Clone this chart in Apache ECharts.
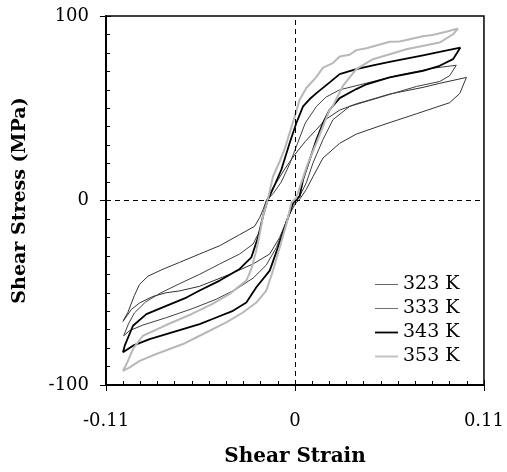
<!DOCTYPE html>
<html>
<head>
<meta charset="utf-8">
<script src="https://cdn.jsdelivr.net/npm/echarts@6/dist/echarts.min.js"></script>
<style>
html,body{margin:0;padding:0;background:#fff;}
#chart{width:507px;height:472px;}
</style>
</head>
<body>
<div id="chart"></div>
<script>
// ---- data (shear strain, shear stress MPa) ----
const seriesNames = ['323 K', '333 K', '343 K', '353 K'];
const xTicks = [-0.11, 0, 0.11];
const yTicks = [-100, 0, 100];

// 323 K
const t323Upper = [[0.0998,66.7],[0.0842,63.5],[0.0745,61.3],[0.0648,59.5],[0.0551,57.7],[0.0454,55],[0.0360,52.5],[0.026,49],[0.018,44],[0.012,38],[0.006,32],[0.0,25],[-0.006,17],[-0.012,8],[-0.0167,0],[-0.0186,-5],[-0.0205,-9.2],[-0.0235,-14],[-0.0322,-18.5],[-0.0438,-24.5],[-0.0555,-29],[-0.0671,-33.5],[-0.0775,-37.5],[-0.0855,-41],[-0.0905,-45.5],[-0.0935,-51.5],[-0.0972,-60.5],[-0.1001,-65.5]];
const t323Lower = [[-0.1001,-65.5],[-0.0952,-59],[-0.0904,-55.5],[-0.0827,-52],[-0.075,-50],[-0.0671,-49],[-0.0555,-46.5],[-0.038,-40],[-0.0244,-34.4],[-0.0147,-29],[-0.0089,-20],[-0.004,-9],[0.0,-2],[0.003,1],[0.0066,6],[0.0105,13],[0.0163,23],[0.026,31],[0.0357,36],[0.0512,41],[0.0707,47],[0.09,53],[0.0959,58],[0.0998,66.7]];

// 333 K
const t333Upper = [[0.0939,73.3],[0.0803,71.7],[0.0609,68.1],[0.0416,63.6],[0.026,60],[0.018,56],[0.0125,51],[0.006,42],[0.0015,31],[-0.003,20],[-0.008,10],[-0.0125,4],[-0.0165,0],[-0.0205,-16.4],[-0.0244,-23.6],[-0.0322,-29],[-0.0438,-34.4],[-0.0555,-40],[-0.067,-45],[-0.078,-50],[-0.087,-55],[-0.0935,-61],[-0.097,-67],[-0.0997,-73.3]];
const t333Lower = [[-0.0997,-73.3],[-0.0962,-70.5],[-0.0885,-67.5],[-0.0749,-63.5],[-0.0594,-58.5],[-0.0458,-53.5],[-0.0341,-48],[-0.0243,-42],[-0.0167,-35],[-0.0108,-25.4],[-0.006,-14],[-0.002,-3],[0.002,1],[0.0066,9.6],[0.0105,20.4],[0.0163,33],[0.0221,43.8],[0.0318,51],[0.0512,56.4],[0.0707,61.8],[0.0842,64.5],[0.09,67.6],[0.0939,73.3]];

// 343 K
const t343Upper = [[0.0963,82.9],[0.0842,80.5],[0.0745,78.7],[0.0648,76.9],[0.0551,75.1],[0.0454,73.3],[0.0357,71.2],[0.026,68.5],[0.0202,64],[0.0125,58.2],[0.0086,55],[0.0047,51],[0.0008,42],[-0.0031,31.2],[-0.0079,16.8],[-0.012,8],[-0.016,0],[-0.0185,-8],[-0.0215,-20],[-0.0254,-30.8],[-0.0322,-37.1],[-0.0438,-43.4],[-0.0555,-48.8],[-0.0632,-52.6],[-0.0749,-57.1],[-0.0865,-61.6],[-0.0943,-67.9],[-0.0991,-78.7],[-0.1001,-82.3]];
const t343Lower = [[-0.1001,-82.3],[-0.0943,-78.7],[-0.0846,-75.1],[-0.0749,-72.4],[-0.0652,-69.7],[-0.0555,-67],[-0.0458,-63.4],[-0.0361,-59.8],[-0.0283,-55.3],[-0.0225,-47],[-0.0147,-38],[-0.0099,-25.4],[-0.005,-12],[-0.001,-1],[0.0027,2.3],[0.0047,11.4],[0.0086,22.2],[0.0125,33],[0.0163,42],[0.0202,49.2],[0.026,55.5],[0.0357,60.4],[0.0416,63],[0.0551,66.7],[0.0648,68.5],[0.0745,70.3],[0.0842,73],[0.092,76.6],[0.0963,82.9]];

// 353 K
const t353Upper = [[0.0949,93.2],[0.088,91.5],[0.080,89.7],[0.0745,89],[0.0609,86.2],[0.0551,86],[0.0416,82.5],[0.0357,81.5],[0.0318,79],[0.026,78],[0.0221,74.5],[0.0163,72],[0.0125,67],[0.0066,61],[0.0027,54.6],[0.0,46],[-0.003,37],[-0.006,28],[-0.009,21],[-0.0128,13],[-0.0157,1],[-0.0186,-8.5],[-0.0205,-18],[-0.0225,-27],[-0.0254,-37],[-0.0283,-43.4],[-0.038,-50.6],[-0.048,-56],[-0.06,-61.5],[-0.075,-67.5],[-0.0885,-73.3],[-0.094,-80],[-0.098,-88.5],[-0.1001,-92.3]];
const t353Lower = [[-0.1001,-92.3],[-0.0962,-90.4],[-0.0904,-86.9],[-0.0807,-83.2],[-0.0652,-77.8],[-0.0555,-73.3],[-0.04,-66.1],[-0.0303,-60.7],[-0.0225,-55.3],[-0.0167,-48.8],[-0.0128,-38],[-0.0089,-25.4],[-0.005,-12.8],[-0.002,-1.1],[0.0008,1.5],[0.0037,9.6],[0.0076,20.4],[0.0125,31.2],[0.0163,40.2],[0.0202,49.2],[0.0221,51.4],[0.028,62.2],[0.0357,71.2],[0.0454,76.6],[0.0648,82],[0.0842,85.6],[0.092,90.1],[0.0949,93.2]];

const loops = [t323Upper.concat(t323Lower), t333Upper.concat(t333Lower), t343Upper.concat(t343Lower), t353Upper.concat(t353Lower)];
const lineColors = ['#333333', '#404040', '#000000', '#b8b8b8'];
const legendColors = ['#666666', '#707070', '#000000', '#c4c4c4'];
const lineWidths = [1, 1, 1.8, 2];

const FONT = 'DejaVu Serif';
const chart = echarts.init(document.getElementById('chart'), null, {renderer: 'canvas'});

const series = loops.map((d, i) => ({
  name: seriesNames[i],
  type: 'line',
  data: d,
  xAxisIndex: 0,
  yAxisIndex: 0,
  showSymbol: false,
  symbol: 'none',
  smooth: false,
  lineStyle: {color: lineColors[i], width: lineWidths[i]},
  itemStyle: {color: lineColors[i]},
  z: 3
}));
series.push({
  name: 'zero',
  type: 'line',
  data: [],
  xAxisIndex: 0, yAxisIndex: 0,
  markLine: {
    silent: true,
    symbol: 'none',
    label: {show: false},
    lineStyle: {color: '#000', width: 1, type: [5, 4]},
    data: [{xAxis: 0}, {yAxis: 0}]
  }
});

const fmtX = v => (Math.abs(v) < 1e-9 ? '0' : (v < 0 ? '-' : '') + Math.abs(v).toFixed(2));

chart.setOption({
  animation: false,
  backgroundColor: '#fff',
  grid: {left: 106, right: 23, top: 16, bottom: 86, show: true, borderColor: '#000', borderWidth: 1.5, backgroundColor: 'transparent'},
  legend: {
    show: true,
    data: seriesNames.map((n, i) => ({name: n, lineStyle: {color: legendColors[i], width: lineWidths[i]}})),
    orient: 'vertical',
    left: 369,
    top: 270,
    itemWidth: 23,
    itemHeight: 14,
    itemGap: 5,
    itemStyle: {opacity: 0},
    textStyle: {fontFamily: FONT, fontSize: 19, color: '#000'}
  },
  xAxis: [{
    type: 'value', min: xTicks[0], max: xTicks[2], interval: 0.11,
    position: 'bottom',
    axisLine: {onZero: false, lineStyle: {color: '#000', width: 2}},
    axisTick: {inside: true, length: 5, lineStyle: {color: '#000', width: 1}},
    minorTick: {show: true, splitNumber: 11, length: 4, lineStyle: {color: '#000', width: 1}},
    axisLabel: {fontFamily: FONT, fontSize: 18, color: '#000', margin: 27, formatter: fmtX},
    splitLine: {show: false},
    name: 'Shear Strain', nameLocation: 'middle', nameGap: 62,
    nameTextStyle: {fontFamily: FONT, fontSize: 20, fontWeight: 'bold', color: '#000'}
  }, {
    type: 'value', min: xTicks[0], max: xTicks[2], interval: 0.11,
    position: 'bottom',
    axisLine: {show: false, onZero: false},
    axisTick: {show: true, inside: false, length: 6, lineStyle: {color: '#000', width: 1}},
    axisLabel: {show: false},
    splitLine: {show: false}
  }],
  yAxis: [{
    type: 'value', min: yTicks[0], max: yTicks[2], interval: 100,
    position: 'left',
    axisLine: {onZero: false, lineStyle: {color: '#000', width: 2}},
    axisTick: {inside: true, length: 5, lineStyle: {color: '#000', width: 1}},
    minorTick: {show: true, splitNumber: 10, length: 4, lineStyle: {color: '#000', width: 1}},
    axisLabel: {fontFamily: FONT, fontSize: 18, color: '#000', margin: 17},
    splitLine: {show: false},
    name: 'Shear Stress (MPa)', nameLocation: 'middle', nameGap: 76,
    nameTextStyle: {fontFamily: FONT, fontSize: 19, fontWeight: 'bold', color: '#000'}
  }, {
    type: 'value', min: yTicks[0], max: yTicks[2], interval: 100,
    position: 'left',
    axisLine: {show: false, onZero: false},
    axisTick: {show: true, inside: false, length: 6, lineStyle: {color: '#000', width: 1}},
    axisLabel: {show: false},
    splitLine: {show: false}
  }],
  series: series
});
</script>
</body>
</html>
